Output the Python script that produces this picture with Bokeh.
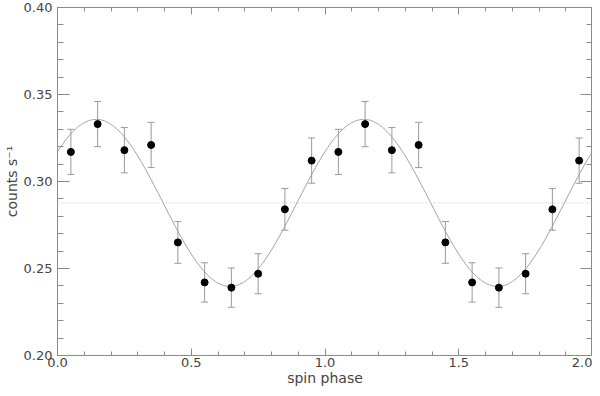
import numpy as np
from bokeh.plotting import figure
from bokeh.models import (Range1d, LinearAxis, SingleIntervalTicker, Span,
                          NumeralTickFormatter, CustomJSTickFormatter)
from bokeh.embed import file_html
from bokeh.resources import INLINE

# --- data ---
phase_one_cycle = [0.05, 0.15, 0.25, 0.35, 0.45, 0.55, 0.65, 0.75, 0.85, 0.95]
rate_one_cycle = [0.317, 0.333, 0.318, 0.321, 0.265, 0.242, 0.239, 0.247, 0.284, 0.312]
err_one_cycle = [0.013, 0.013, 0.013, 0.013, 0.012, 0.0113, 0.0113, 0.0115, 0.012, 0.013]

# sinusoidal fit parameters
fit_mean = 0.2877
fit_amp = 0.048
fit_peak_phase = 0.145

# two cycles
phase = phase_one_cycle + [p + 1.0 for p in phase_one_cycle]
rate = rate_one_cycle * 2
err = err_one_cycle * 2
lo = [r - e for r, e in zip(rate, err)]
hi = [r + e for r, e in zip(rate, err)]

xf = np.linspace(0, 2, 401)
yf = fit_mean + fit_amp * np.cos(2 * np.pi * (xf - fit_peak_phase))

FONT = "DejaVu Sans"
TXT = "#444444"
AX = "#8a8a8a"

p = figure(width=592, height=388, output_backend="svg", toolbar_location=None,
           x_range=Range1d(0, 2), y_range=Range1d(0.2, 0.4),
           min_border_left=50, min_border_right=0, min_border_top=7, min_border_bottom=10,
           x_axis_label="spin phase", y_axis_label="counts s\u207b\u00b9")
p.grid.visible = False
p.outline_line_color = AX
p.background_fill_color = "white"

xt = SingleIntervalTicker(interval=0.5, num_minor_ticks=5)
yt = SingleIntervalTicker(interval=0.05, num_minor_ticks=5)
blank = CustomJSTickFormatter(code="return '';")


def style_common(ax, labels):
    ax.axis_line_color = AX
    ax.major_tick_line_color = AX
    ax.minor_tick_line_color = AX
    ax.major_tick_out = 0
    ax.minor_tick_out = 0
    ax.major_label_text_font = FONT
    ax.major_label_text_font_size = "13px"
    ax.major_label_text_color = TXT
    ax.axis_label_text_font = FONT
    ax.axis_label_text_font_size = "14px"
    ax.axis_label_text_font_style = "normal"
    ax.axis_label_text_color = TXT
    if not labels:
        ax.formatter = blank
        ax.major_label_text_color = None
        ax.major_label_standoff = 0


def style_x(ax, labels=True):
    ax.ticker = xt
    ax.major_tick_in = 7
    ax.minor_tick_in = 4
    if labels:
        ax.formatter = NumeralTickFormatter(format="0.0")
        ax.major_label_standoff = 2
        ax.axis_label_standoff = 0
    style_common(ax, labels)


def style_y(ax, labels=True):
    ax.ticker = yt
    ax.major_tick_in = 12
    ax.minor_tick_in = 6
    if labels:
        ax.formatter = NumeralTickFormatter(format="0.00")
        ax.major_label_standoff = 5
        ax.axis_label_standoff = 1
    style_common(ax, labels)


style_x(p.xaxis[0])
style_y(p.yaxis[0])

top = LinearAxis()
style_x(top, labels=False)
p.add_layout(top, "above")
right = LinearAxis()
style_y(right, labels=False)
p.add_layout(right, "right")

# mean level (dotted)
p.add_layout(Span(location=fit_mean, dimension="width", line_color="#d8d8d8",
                  line_width=1, line_dash="2 2"))

# fit curve
p.line(xf, yf, line_color="#a0a0a0", line_width=1)

# error bars
p.segment(x0=phase, y0=lo, x1=phase, y1=hi, line_color="#9a9a9a", line_width=1)
p.scatter(phase, lo, marker="dash", size=7, line_color="#9a9a9a", line_width=1)
p.scatter(phase, hi, marker="dash", size=7, line_color="#9a9a9a", line_width=1)

# data points
p.scatter(phase, rate, marker="circle", size=7, fill_color="black", line_color="black")

open("out.html", "w").write(file_html(p, INLINE))
